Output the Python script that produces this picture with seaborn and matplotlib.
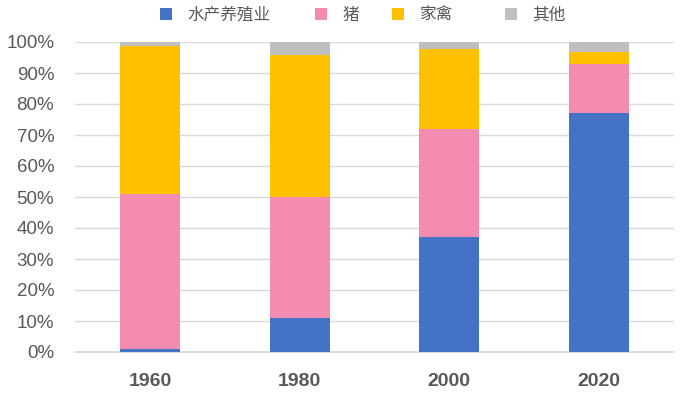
import matplotlib
matplotlib.use("Agg")
import matplotlib.pyplot as plt
import seaborn as sns
import numpy as np
import pandas as pd
from matplotlib.patches import Patch

years = ["1960", "1980", "2000", "2020"]
series_names = ["水产养殖业", "猪", "家禽", "其他"]
aquaculture = [1.0, 11.0, 37.0, 77.0]
pig = [50.0, 39.0, 35.0, 16.0]
poultry = [47.7, 45.8, 25.7, 3.8]
other = [1.3, 4.2, 2.3, 3.2]
colors = ["#4472C4", "#F48BB0", "#FFC000", "#BFBFBF"]

sns.set_theme(style="white")
plt.rcParams['font.family'] = ['Noto Sans CJK SC', 'DejaVu Sans']

fig = plt.figure(figsize=(6.82, 3.95), dpi=100)
ax = fig.add_axes([75/682, 43/395, 599/682, 310/395])

vals = np.array([aquaculture, pig, poultry, other])
cum = np.cumsum(vals, axis=0)
for i in range(len(series_names) - 1, -1, -1):
    df = pd.DataFrame({"year": years, "v": cum[i]})
    sns.barplot(data=df, x="year", y="v", color=colors[i], width=0.4,
                saturation=1, ax=ax, zorder=3, linewidth=0, edgecolor="none")

ax.set_ylim(0, 100)
ax.set_xlim(-0.5, 3.5)
ax.set_yticks(np.arange(0, 101, 10))
ax.set_yticklabels([f"{t}%" for t in range(0, 101, 10)], color="#595959",
                   fontsize=13.5, family=['Liberation Sans', 'DejaVu Sans'])
ax.set_xticks(range(4))
ax.set_xticklabels(years, color="#595959", fontsize=14, fontweight="bold",
                   family=['Liberation Sans', 'DejaVu Sans'])
ax.tick_params(axis="y", length=0, pad=15)
ax.tick_params(axis="x", length=0, pad=15)
ax.set_xlabel("")
ax.set_ylabel("")
ax.yaxis.grid(True, color="#D9D9D9", linewidth=1, zorder=0)
ax.set_axisbelow(True)
for s in ["top", "right", "left"]:
    ax.spines[s].set_visible(False)
ax.spines["bottom"].set_color("#D9D9D9")

# legend entries placed individually to mimic original spacing
legend_x = [160, 315, 392, 505]
for name, c, lx in zip(series_names, colors, legend_x):
    leg = fig.legend([Patch(facecolor=c, edgecolor="none")], [name],
                     loc="center left", bbox_to_anchor=(lx/682, 1 - 15/395),
                     frameon=False, fontsize=12, handlelength=0.7,
                     handleheight=0.7, handletextpad=0.95, borderpad=0,
                     borderaxespad=0, labelcolor="#595959")

fig.savefig("out.png", dpi=100)
